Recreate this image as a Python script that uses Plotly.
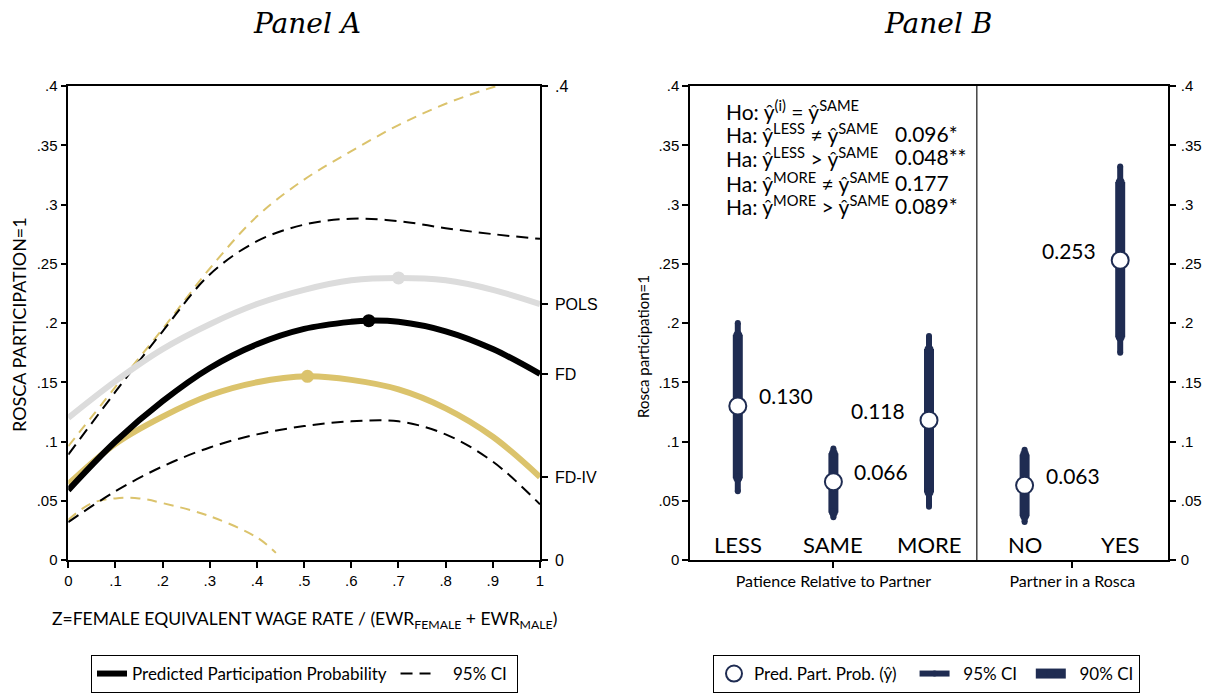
import plotly.graph_objects as go

# ---------------- Panel A data ----------------
z_grid = [0.0, 0.1, 0.2, 0.3, 0.4, 0.5, 0.6, 0.7, 0.8, 0.9, 1.0]
pols_y = [0.120, 0.151, 0.178, 0.199, 0.216, 0.228, 0.236, 0.238, 0.236, 0.228, 0.216]
fd_z = [0.0, 0.1, 0.2, 0.3, 0.4, 0.5, 0.6, 0.637, 0.7, 0.8, 0.9, 1.0]
fd_y = [0.059, 0.100, 0.134, 0.162, 0.182, 0.195, 0.201, 0.202, 0.201, 0.193, 0.178, 0.157]
fdiv_z = [0.0, 0.1, 0.2, 0.3, 0.4, 0.507, 0.6, 0.7, 0.8, 0.9, 1.0]
fdiv_y = [0.064, 0.098, 0.121, 0.139, 0.150, 0.155, 0.152, 0.144, 0.128, 0.104, 0.070]
fd_hi = [0.089, 0.142, 0.193, 0.241, 0.269, 0.283, 0.288, 0.286, 0.280, 0.275, 0.271]
fd_lo = [0.032, 0.058, 0.079, 0.095, 0.106, 0.113, 0.117, 0.117, 0.106, 0.083, 0.047]
fdiv_hi = [0.096, 0.146, 0.195, 0.246, 0.290, 0.321, 0.345, 0.367, 0.385, 0.399, 0.410]
fdiv_lo_z = [0.0, 0.05, 0.1, 0.15, 0.2, 0.3, 0.4, 0.44]
fdiv_lo = [0.034, 0.048, 0.052, 0.052, 0.048, 0.037, 0.019, 0.006]
peak_z = [0.70, 0.637, 0.507]
peak_y = [0.238, 0.202, 0.155]
model_names = ["POLS", "FD", "FD-IV"]
a_xticks = [0, 0.1, 0.2, 0.3, 0.4, 0.5, 0.6, 0.7, 0.8, 0.9, 1.0]
a_xtext = ["0", ".1", ".2", ".3", ".4", ".5", ".6", ".7", ".8", ".9", "1"]
y_ticks = [0, 0.05, 0.1, 0.15, 0.2, 0.25, 0.3, 0.35, 0.4]
y_text = ["0", ".05", ".1", ".15", ".2", ".25", ".3", ".35", ".4"]

# ---------------- Panel B data ----------------
cats = ["LESS", "SAME", "MORE", "NO", "YES"]
cat_pos = [1, 2, 3, 4, 5]
pred = [0.130, 0.066, 0.118, 0.063, 0.253]
ci95_lo = [0.058, 0.036, 0.045, 0.032, 0.175]
ci95_hi = [0.200, 0.094, 0.189, 0.093, 0.332]
ci90_lo = [0.069, 0.040, 0.057, 0.037, 0.188]
ci90_hi = [0.190, 0.090, 0.178, 0.089, 0.319]
label_side = ["right", "right", "left", "right", "left"]
group_labels = ["Patience Relative to Partner", "Partner in a Rosca"]
group_pos = [2, 4.5]
hyp_lines = ["Ho: ŷ<sup>(i)</sup> = ŷ<sup>SAME</sup>",
             "Ha: ŷ<sup>LESS</sup> ≠ ŷ<sup>SAME</sup>",
             "Ha: ŷ<sup>LESS</sup> > ŷ<sup>SAME</sup>",
             "Ha: ŷ<sup>MORE</sup> ≠ ŷ<sup>SAME</sup>",
             "Ha: ŷ<sup>MORE</sup> > ŷ<sup>SAME</sup>"]
p_values = ["", "0.096*", "0.048**", "0.177", "0.089*"]

GOLD = "#dbc36c"
GRAY = "#dcdcdc"
NAVY = "#1f2c52"
TXT = "Lato"
TICKF = "Liberation Sans"
W, H = 1210, 696
SP = "\u00a0"

fig = go.Figure()

# Panel A curves
dash_gold = dict(color=GOLD, width=2, dash="10px,7px", shape="spline")
dash_black = dict(color="black", width=2, dash="12px,7px", shape="spline")
fig.add_trace(go.Scatter(x=z_grid, y=fdiv_hi, mode="lines", line=dash_gold, showlegend=False, xaxis="x", yaxis="y"))
fig.add_trace(go.Scatter(x=fdiv_lo_z, y=fdiv_lo, mode="lines", line=dash_gold, showlegend=False, xaxis="x", yaxis="y"))
fig.add_trace(go.Scatter(x=z_grid, y=fd_hi, mode="lines", line=dash_black,
                         name=SP * 4 + "95% CI" + SP, legend="legend", legendrank=2, xaxis="x", yaxis="y"))
fig.add_trace(go.Scatter(x=z_grid, y=fd_lo, mode="lines", line=dash_black, showlegend=False, xaxis="x", yaxis="y"))
fig.add_trace(go.Scatter(x=z_grid, y=pols_y, mode="lines", line=dict(color=GRAY, width=6, shape="spline"),
                         showlegend=False, xaxis="x", yaxis="y"))
fig.add_trace(go.Scatter(x=fdiv_z, y=fdiv_y, mode="lines", line=dict(color=GOLD, width=6, shape="spline"),
                         showlegend=False, xaxis="x", yaxis="y"))
fig.add_trace(go.Scatter(x=fd_z, y=fd_y, mode="lines", line=dict(color="black", width=6, shape="spline"),
                         name="Predicted Participation Probability" + SP, legend="legend", legendrank=1,
                         xaxis="x", yaxis="y"))
fig.add_trace(go.Scatter(x=peak_z, y=peak_y, mode="markers",
                         marker=dict(color=[GRAY, "black", GOLD], size=13),
                         showlegend=False, xaxis="x", yaxis="y"))
# invisible anchor for the right-hand axis of Panel A (so its ticks render)
fig.add_trace(go.Scatter(x=[z_grid[-1]], y=[pols_y[-1]], mode="markers", marker=dict(opacity=0),
                         showlegend=False, hoverinfo="skip", xaxis="x", yaxis="y2"))

# Panel B
def segs(lo, hi):
    xs, ys = [], []
    for p, a, b in zip(cat_pos, lo, hi):
        xs += [p, p, None]
        ys += [a, b, None]
    return xs, ys

x95, y95 = segs(ci95_lo, ci95_hi)
x90, y90 = segs(ci90_lo, ci90_hi)
fig.add_trace(go.Scatter(x=x95, y=y95, mode="lines+markers", line=dict(color=NAVY, width=6),
                         marker=dict(color=NAVY, size=6), name=SP * 2 + "95% CI" + SP * 2,
                         legend="legend2", legendrank=2, xaxis="x2", yaxis="y3"))
fig.add_trace(go.Scatter(x=x90, y=y90, mode="lines+markers", line=dict(color=NAVY, width=10),
                         marker=dict(color=NAVY, size=9), name=SP * 2 + "90% CI",
                         legend="legend2", legendrank=3, xaxis="x2", yaxis="y3"))
fig.add_trace(go.Scatter(x=cat_pos, y=pred, mode="markers",
                         marker=dict(color="white", size=17, line=dict(color=NAVY, width=2)),
                         name="Pred. Part. Prob. (ŷ)" + SP * 3, legend="legend2", legendrank=1,
                         xaxis="x2", yaxis="y3"))
fig.add_trace(go.Scatter(x=[cat_pos[-1]], y=[pred[-1]], mode="markers", marker=dict(opacity=0),
                         showlegend=False, hoverinfo="skip", xaxis="x2", yaxis="y4"))

axis_common = dict(showgrid=False, zeroline=False, showline=True, linecolor="black", linewidth=1.5,
                   ticks="outside", ticklen=6, tickwidth=1.5, tickcolor="black",
                   tickfont=dict(family=TICKF, size=15, color="black"), automargin=False, fixedrange=True)

Y_DOM = [1 - 560 / H, 1 - 86 / H]
fig.update_layout(
    width=W, height=H, margin=dict(l=0, r=0, t=0, b=0),
    paper_bgcolor="white", plot_bgcolor="white",
    xaxis=dict(axis_common, domain=[68.3 / W, 540 / W], range=[0, 1], tickvals=a_xticks, ticktext=a_xtext,
               mirror=True, anchor="y"),
    yaxis=dict(axis_common, domain=Y_DOM, range=[0, 0.4], tickvals=y_ticks, ticktext=y_text, anchor="x"),
    yaxis2=dict(axis_common, range=[0, 0.4], overlaying="y", side="right", anchor="x",
                tickvals=[0, fdiv_y[-1], fd_y[-1], pols_y[-1], 0.4],
                ticktext=["0", model_names[2], model_names[1], model_names[0], ".4"],
                ticklabelstandoff=4,
                tickfont=dict(family=TICKF, size=16, color="black")),
    xaxis2=dict(axis_common, domain=[690 / W, 1168 / W], range=[0.5, 5.5], tickvals=group_pos,
                ticktext=group_labels, mirror=True, anchor="y3",
                tickfont=dict(family=TXT, size=16, color="black")),
    yaxis3=dict(axis_common, domain=Y_DOM, range=[0, 0.4], tickvals=y_ticks, ticktext=y_text, anchor="x2"),
    yaxis4=dict(axis_common, range=[0, 0.4], overlaying="y3", side="right", anchor="x2",
                tickvals=y_ticks, ticktext=y_text, ticklabelstandoff=2),
    legend=dict(orientation="h", x=91 / W, y=1 - 655 / H, xanchor="left", yanchor="top",
                bordercolor="black", borderwidth=1, bgcolor="white",
                font=dict(family=TXT, size=17, color="black")),
    legend2=dict(orientation="h", x=713 / W, y=1 - 655 / H, xanchor="left", yanchor="top",
                 bordercolor="black", borderwidth=1, bgcolor="white",
                 font=dict(family=TXT, size=17, color="black")),
    showlegend=True,
)

# divider in panel B between the two groups
mid = (cat_pos[2] + cat_pos[3]) / 2
fig.add_shape(type="line", xref="x2", yref="paper", x0=mid, x1=mid,
              y0=Y_DOM[0], y1=Y_DOM[1], line=dict(color="#444", width=1.5))

ann = []
# titles
ann.append(dict(text="<i>Panel A</i>", x=307 / W, y=1 - 24 / H, xref="paper", yref="paper", showarrow=False,
                xanchor="center", yanchor="middle", font=dict(family="DejaVu Serif", size=28, color="black")))
ann.append(dict(text="<i>Panel B</i>", x=938 / W, y=1 - 24 / H, xref="paper", yref="paper", showarrow=False,
                xanchor="center", yanchor="middle", font=dict(family="DejaVu Serif", size=28, color="black")))
# axis titles
ann.append(dict(text="Z=FEMALE EQUIVALENT WAGE RATE / (EWR<sub>FEMALE</sub> + EWR<sub>MALE</sub>)",
                x=304 / W, y=1 - 620 / H, xref="paper", yref="paper", showarrow=False,
                xanchor="center", yanchor="middle", font=dict(family=TXT, size=17.5, color="black")))
ann.append(dict(text="ROSCA PARTICIPATION=1", x=19 / W, y=1 - 325 / H, xref="paper", yref="paper",
                showarrow=False, textangle=-90, xanchor="center", yanchor="middle",
                font=dict(family=TXT, size=18, color="black")))
ann.append(dict(text="Rosca participation=1", x=643 / W, y=1 - 347 / H, xref="paper", yref="paper",
                showarrow=False, textangle=-90, xanchor="center", yanchor="middle",
                font=dict(family=TXT, size=15, color="black")))
# category labels
for c, p in zip(cats, cat_pos):
    ann.append(dict(text=c, x=p, y=0.0127, xref="x2", yref="y3", showarrow=False,
                    xanchor="center", yanchor="middle", font=dict(family=TXT, size=22, color="black")))
# value labels
for p, v, s in zip(cat_pos, pred, label_side):
    ann.append(dict(text=f"{v:.3f}", x=p, y=v, xref="x2", yref="y3", showarrow=False,
                    xanchor="left" if s == "right" else "right", xshift=19 if s == "right" else -22,
                    yanchor="middle", yshift=10, font=dict(family=TXT, size=21, color="black")))
# hypotheses
hyp_py = [110, 133, 157, 182, 205]
for t, pv, py in zip(hyp_lines, p_values, hyp_py):
    ann.append(dict(text=t, x=724 / W, y=1 - py / H, xref="paper", yref="paper", showarrow=False,
                    xanchor="left", yanchor="middle", font=dict(family=TXT, size=21, color="black")))
    if pv:
        ann.append(dict(text=pv, x=893 / W, y=1 - py / H, xref="paper", yref="paper", showarrow=False,
                        xanchor="left", yanchor="middle", font=dict(family=TXT, size=21, color="black")))
fig.update_layout(annotations=ann)

fig.write_html("out.html")
